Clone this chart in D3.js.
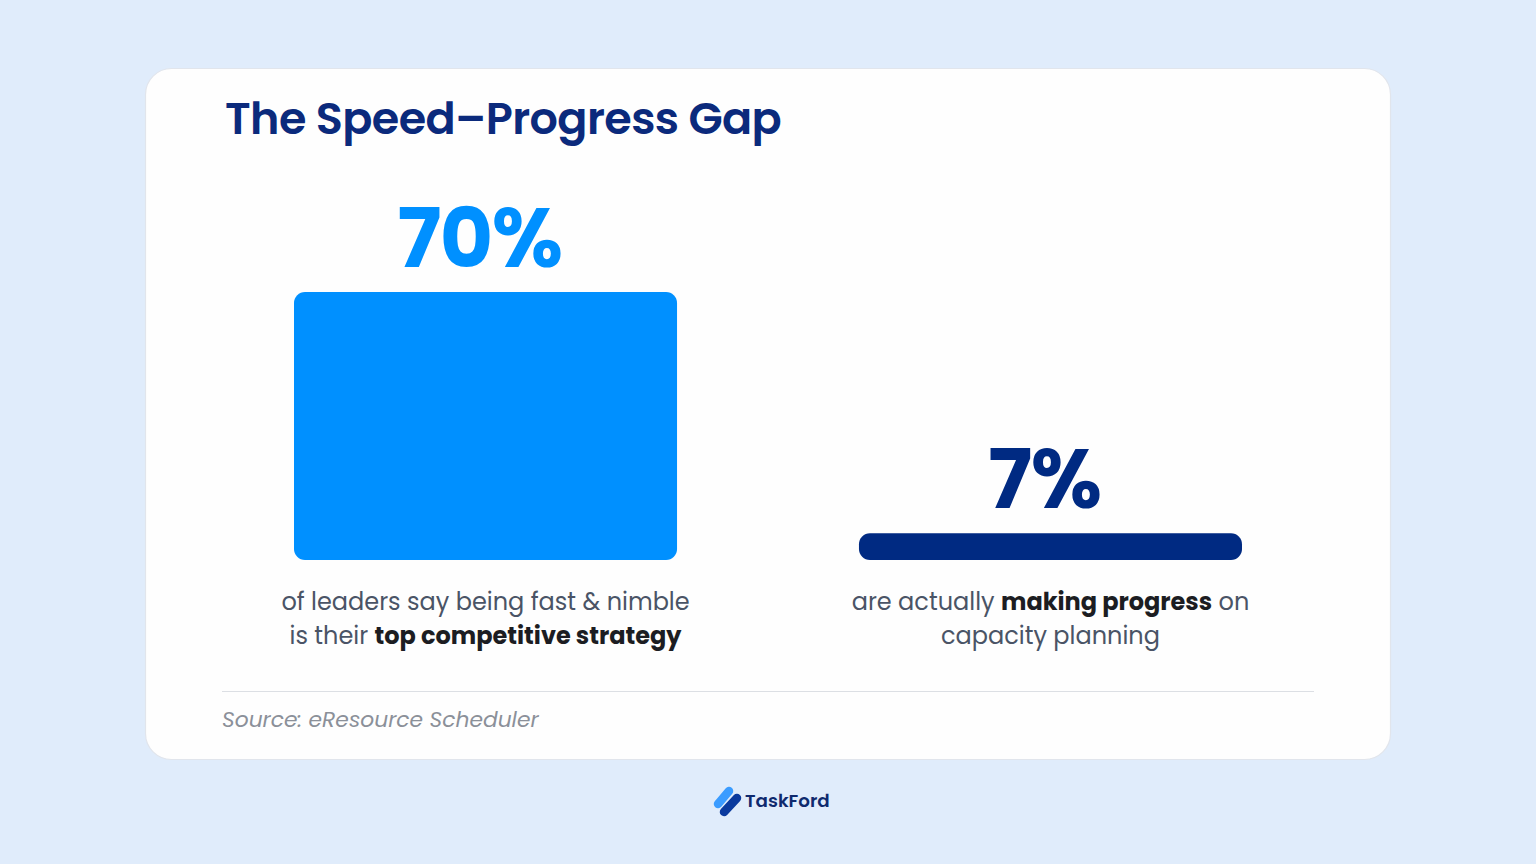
<!DOCTYPE html>
<html>
<head>
<meta charset="utf-8">
<script src="https://cdn.jsdelivr.net/npm/d3@7"></script>
<style>
  html, body { margin: 0; padding: 0; background: #e0ecfb; }
  svg { display: block; font-family: Poppins, Inter, "Noto Sans", sans-serif; }
</style>
</head>
<body>
<div id="chart"></div>
<script>
// speed vs progress: two stat bars on a white card

const categories = ["fast", "progress"]
const values = [70, 7]
const valueLabels = ["70%", "7%"]
const barColors = ["#0090ff", "#002a82"]
// caption lines, each is a list of [text, bold?] runs
const captions = [
  [[["of leaders say being fast & nimble", false]], [["is their ", false], ["top competitive strategy", true]]],
  [[["are actually ", false], ["making progress", true], [" on", false]], [["capacity planning", false]]]
]
const title = "The Speed\u2013Progress Gap"
const source = "Source: eResource Scheduler"
const brand = "TaskFord"

const W = 1536, H = 864

const svg = d3.select("#chart").append("svg")
  .attr("width", W).attr("height", H)

// card
svg.append("rect")
  .attr("x", 145.5).attr("y", 68.5).attr("width", 1245).attr("height", 691)
  .attr("rx", 26)
  .attr("fill", "#fefefe").attr("stroke", "#e1e5ec").attr("stroke-width", 1.2)

svg.append("text")
  .attr("x", 225).attr("y", 134)
  .style("font-size", "44.5px").style("font-weight", 600).style("fill", "#0b2a7c")
  .style("letter-spacing", "-0.6px")
  .text(title)

// scales
const x = d3.scaleBand().domain(categories).range([294, 1242]).paddingInner(0.322)
const y = d3.scaleLinear().domain([0, 70]).range([560, 292])

const g = svg.append("g")

g.selectAll(".bar")
  .data(categories)
  .join("rect")
  .attr("class", "bar")
  .attr("x", d => x(d))
  .attr("y", (d, i) => y(values[i]))
  .attr("width", x.bandwidth())
  .attr("height", (d, i) => y(0) - y(values[i]))
  .attr("rx", (d, i) => Math.min(11, (y(0) - y(values[i])) / 2))
  .attr("fill", (d, i) => barColors[i])

// big percent labels
g.selectAll(".val")
  .data(categories)
  .join("text")
  .attr("class", "val")
  .attr("x", d => x(d) + x.bandwidth() / 2)
  .attr("dx", -6)
  .attr("y", (d, i) => y(values[i]) - 25)
  .attr("text-anchor", "middle")
  .style("font-size", "82px").style("font-weight", 700)
  .style("letter-spacing", "-1.5px")
  .style("fill", (d, i) => barColors[i])
  .text((d, i) => valueLabels[i])

// captions under the bars
categories.forEach((cat, i) => {
  const t = g.append("text")
    .attr("text-anchor", "middle")
    .style("font-size", "24px").style("fill", "#4a5466")
  captions[i].forEach((line, li) => {
    line.forEach((run, ri) => {
      const ts = t.append("tspan").text(run[0])
      if (ri === 0) ts.attr("x", x(cat) + x.bandwidth() / 2).attr("y", 610 + li * 34)
      if (run[1]) ts.style("font-weight", 700).style("fill", "#1c1d22")
    })
  })
})

// divider + source
svg.append("line")
  .attr("x1", 222).attr("x2", 1314).attr("y1", 691.5).attr("y2", 691.5)
  .attr("stroke", "#dcdfe4").attr("stroke-width", 1.2)

svg.append("text")
  .attr("x", 222).attr("y", 727)
  .style("font-size", "21.8px").style("font-style", "italic").style("fill", "#8b9099")
  .text(source)

// brand logo below the card
const logo = svg.append("g")
logo.append("line")
  .attr("x1", 718).attr("y1", 804).attr("x2", 729).attr("y2", 791)
  .attr("stroke", "#3b9cff").attr("stroke-width", 8.5).attr("stroke-linecap", "round")
logo.append("line")
  .attr("x1", 724).attr("y1", 812).attr("x2", 737).attr("y2", 798)
  .attr("stroke", "#0a3a9e").attr("stroke-width", 8.5).attr("stroke-linecap", "round")
svg.append("text")
  .attr("x", 745).attr("y", 807)
  .style("font-size", "18.3px").style("font-weight", 600).style("fill", "#0f2a6e")
  .text(brand)
</script>
</body>
</html>
